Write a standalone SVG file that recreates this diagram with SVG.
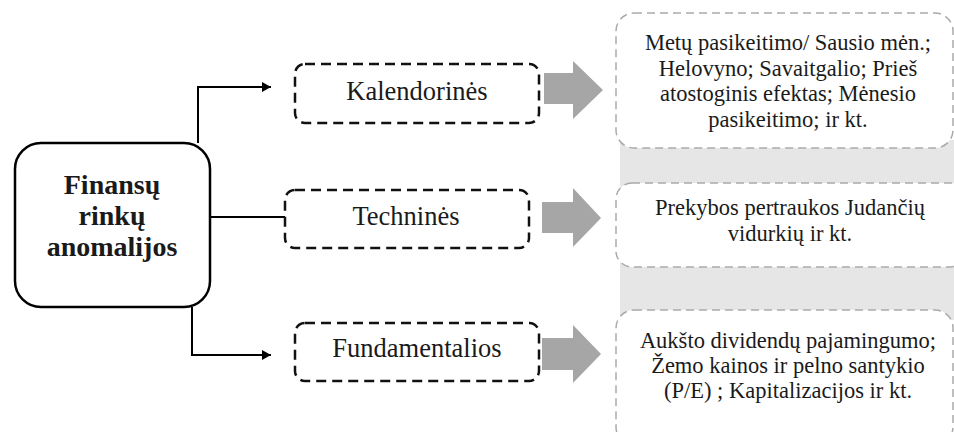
<svg xmlns="http://www.w3.org/2000/svg" width="954" height="432" viewBox="0 0 954 432">
<style>
.lbl{fill:#1a1a1a;text-anchor:middle;font-family:'Liberation Serif',serif}
.cat{font-size:26.5px}
.det{font-size:22.5px}
.main{font-size:28px;font-weight:bold}
.dbox{fill:#fff;stroke:#111;stroke-width:2.5;stroke-dasharray:10 6}
.gbox{fill:#fff;stroke:#aaa;stroke-width:1.5;stroke-dasharray:8 5}
.conn{fill:none;stroke:#000;stroke-width:2}
.blk{fill:#a6a6a6}
</style>
<defs>
<marker id="ah" markerWidth="10" markerHeight="10" refX="9" refY="5" orient="auto" markerUnits="userSpaceOnUse">
<path d="M0,0 L9,5 L0,10 z" fill="#000"/>
</marker>
</defs>
<rect x="620" y="140" width="334" height="180" fill="#e6e6e6"/>
<g id="connectors">
<polyline class="conn" points="198,143 198,87 271,87" marker-end="url(#ah)"/>
<line class="conn" x1="209" y1="217" x2="285" y2="217"/>
<polyline class="conn" points="192,307 192,355 271,355" marker-end="url(#ah)"/>
<polygon class="blk" points="544,73 573,73 573,61 603,90 573,119 573,104 544,104"/>
<polygon class="blk" points="542,202 573,202 573,188 601,218 573,247 573,233 542,233"/>
<polygon class="blk" points="542,338 573,338 573,325 601,354 573,383 573,370 542,370"/>
</g>
<g id="main">
<rect x="15" y="143" width="195" height="164" rx="26" fill="#fff" stroke="#000" stroke-width="2.5"/>
<text class="lbl main" x="112" y="194" font-family="'Liberation Serif', serif">Finansų</text>
<text class="lbl main" x="112" y="225" font-family="'Liberation Serif', serif">rinkų</text>
<text class="lbl main" x="112" y="256" font-family="'Liberation Serif', serif">anomalijos</text>
</g>
<g id="kalendorines">
<rect class="dbox" x="295" y="64" width="244" height="59" rx="10"/>
<text class="lbl cat" x="417" y="100" font-family="'Liberation Serif', serif">Kalendorinės</text>
</g>
<g id="technines">
<rect class="dbox" x="285" y="190" width="244" height="58" rx="10"/>
<text class="lbl cat" x="406" y="225" font-family="'Liberation Serif', serif">Techninės</text>
</g>
<g id="fundamentalios">
<rect class="dbox" x="295" y="323" width="244" height="58" rx="10"/>
<text class="lbl cat" x="417" y="357" font-family="'Liberation Serif', serif">Fundamentalios</text>
</g>
<g id="kal-detail">
<rect class="gbox" x="616" y="13" width="337" height="135" rx="18"/>
<text class="lbl det" x="788" y="50" font-family="'Liberation Serif', serif">Metų pasikeitimo/ Sausio mėn.;</text>
<text class="lbl det" x="788" y="75.5" font-family="'Liberation Serif', serif">Helovyno; Savaitgalio; Prieš</text>
<text class="lbl det" x="788" y="101" font-family="'Liberation Serif', serif">atostoginis efektas; Mėnesio</text>
<text class="lbl det" x="788" y="126.5" font-family="'Liberation Serif', serif">pasikeitimo; ir kt.</text>
</g>
<g id="tech-detail">
<rect class="gbox" x="616" y="183" width="350" height="84" rx="16"/>
<text class="lbl det" x="790" y="215" font-family="'Liberation Serif', serif">Prekybos pertraukos Judančių</text>
<text class="lbl det" x="790" y="241" font-family="'Liberation Serif', serif">vidurkių ir kt.</text>
</g>
<g id="fund-detail">
<rect class="gbox" x="616" y="310" width="337" height="135" rx="18"/>
<text class="lbl det" x="788" y="348" font-family="'Liberation Serif', serif">Aukšto dividendų pajamingumo;</text>
<text class="lbl det" x="788" y="373" font-family="'Liberation Serif', serif">Žemo kainos ir pelno santykio</text>
<text class="lbl det" x="788" y="398" font-family="'Liberation Serif', serif">(P/E) ; Kapitalizacijos ir kt.</text>
</g>
</svg>
